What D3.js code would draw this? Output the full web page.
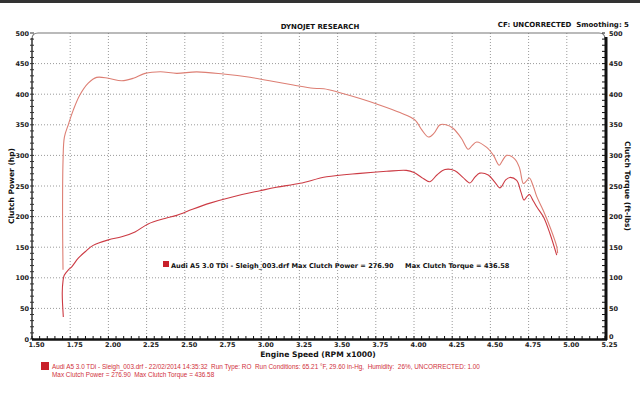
<!DOCTYPE html>
<html><head><meta charset="utf-8">
<script src="https://cdn.jsdelivr.net/npm/d3@7"></script>
<style>html,body{margin:0;padding:0;background:#fff;overflow:hidden}</style>
</head><body>
<svg id="c" width="640" height="397"></svg>
<script>
// RPM (x1000) and values
const torqueRpm = [1.703,1.700,1.703,1.712,1.740,1.770,1.814,1.868,1.923,2.000,2.087,2.163,2.240,2.340,2.447,2.578,2.752,2.927,3.100,3.210,3.340,3.410,3.516,3.647,3.756,3.908,4.006,4.050,4.094,4.130,4.170,4.210,4.257,4.310,4.355,4.380,4.410,4.476,4.520,4.558,4.580,4.607,4.660,4.690,4.716,4.735,4.755,4.780,4.803,4.846,4.890,4.934,4.940];
const torqueVal = [113,200,290,330,352,374,399,418,427.5,426,422,426,434,436.6,434,436.5,433,427.6,420,415,409.6,409,402.5,393,384,370,358,342,330,336,350,350,344,328,310,316,322,313,300,284,292,300,294,280,254,258,263,250,233,210,183,151,140];
const powerRpm = [1.705,1.698,1.703,1.711,1.738,1.760,1.803,1.850,1.900,2.000,2.087,2.174,2.260,2.370,2.447,2.550,2.665,2.817,2.992,3.100,3.254,3.428,3.647,3.820,3.950,4.000,4.050,4.104,4.150,4.203,4.268,4.320,4.366,4.400,4.430,4.486,4.530,4.563,4.600,4.628,4.672,4.700,4.720,4.740,4.755,4.780,4.803,4.846,4.890,4.934];
const powerVal = [36,75,95,104,113,118,132,143,153,162,167,175,188,197,202,212,222,232.5,242.3,248,254.4,265,270.7,274,275.5,272,264,257,268,276.9,275,264,255,265,271,268,256,247,260,264,259,240,227,233,236,226,216,200,172,137];
const xTicks = [1.50,1.75,2.00,2.25,2.50,2.75,3.00,3.25,3.50,3.75,4.00,4.25,4.50,4.75,5.00,5.25];
const yTicks = [0,50,100,150,200,250,300,350,400,450,500];

const svg = d3.select("#c");
const L = 32, R = 605, T = 33, B = 339;
const x = d3.scaleLinear().domain([1.5,5.25]).range([L,R]);
const y = d3.scaleLinear().domain([0,500]).range([B,T]);
const y2 = d3.scaleLinear().domain([0,500]).range([B,T]);

// background & scan strip
svg.append("rect").attr("width",640).attr("height",397).attr("fill","#fff");
svg.append("rect").attr("width",640).attr("height",3).attr("fill","#333");

// grid
const g = svg.append("g");
g.selectAll(".gx").data(xTicks.slice(1,-1)).join("line")
  .attr("x1",d=>x(d)).attr("x2",d=>x(d)).attr("y1",T).attr("y2",B)
  .attr("stroke","#9a9a9a").attr("stroke-width",1).attr("stroke-dasharray","1,2");
g.selectAll(".gy").data(yTicks.slice(1,-1)).join("line")
  .attr("x1",L).attr("x2",R).attr("y1",d=>y(d)).attr("y2",d=>y(d))
  .attr("stroke","#9a9a9a").attr("stroke-width",1).attr("stroke-dasharray","1,2");

// top border with rounded corners
svg.append("path").attr("d",`M${L},${T+6} Q${L},${T} ${L+6},${T} L${R-6},${T} Q${R},${T} ${R},${T+6}`)
  .attr("fill","none").attr("stroke","#777").attr("stroke-width",1.2);

// left axis
const yAxisL = d3.axisLeft(y).tickValues(yTicks).tickSize(0).tickFormat(d3.format("d"));
const gl = svg.append("g").attr("transform",`translate(${L},0)`).call(yAxisL);
gl.select(".domain").remove();
gl.selectAll("text").attr("x",-3).attr("font-family","DejaVu Sans").attr("font-weight","bold").attr("font-size",6.5).attr("fill","#222");
svg.append("line").attr("x1",L).attr("x2",L).attr("y1",T+5).attr("y2",B).attr("stroke","#333").attr("stroke-width",1.5);
const minorY = d3.range(0,501,10);
svg.selectAll(".mly").data(minorY).join("line")
  .attr("x1",L-2).attr("x2",L+2).attr("y1",d=>y(d)).attr("y2",d=>y(d)).attr("stroke","#333").attr("stroke-width",1);

// right axis
const yAxisR = d3.axisRight(y2).tickValues(yTicks).tickSize(0).tickFormat(d3.format("d"));
const gr = svg.append("g").attr("transform",`translate(${R},0)`).call(yAxisR);
gr.select(".domain").remove();
gr.selectAll("text").attr("x",4).attr("font-family","DejaVu Sans").attr("font-weight","bold").attr("font-size",6.5).attr("fill","#222")
  .attr("dy",d=>d===0?"-0.1em":"0.32em");
svg.append("line").attr("x1",R+1).attr("x2",R+1).attr("y1",T+4).attr("y2",B+1).attr("stroke","#111").attr("stroke-width",3);
svg.selectAll(".mry").data(minorY).join("line")
  .attr("x1",R-3).attr("x2",R).attr("y1",d=>y2(d)).attr("y2",d=>y2(d)).attr("stroke","#111").attr("stroke-width",1);

// bottom axis
const xAxis = d3.axisBottom(x).tickValues(xTicks).tickSize(0).tickFormat(d3.format(".2f"));
const gb = svg.append("g").attr("transform",`translate(0,${B})`).call(xAxis);
gb.select(".domain").remove();
gb.selectAll("text").attr("y",3).attr("dx",4).attr("font-family","DejaVu Sans").attr("font-weight","bold").attr("font-size",6.5).attr("fill","#222");
svg.append("line").attr("x1",L).attr("x2",R+2).attr("y1",B+0.5).attr("y2",B+0.5).attr("stroke","#111").attr("stroke-width",2.5);
const minorX = d3.range(0,76).map(i=>1.5+i*0.05);
svg.selectAll(".mbx").data(minorX).join("line")
  .attr("x1",d=>x(d)).attr("x2",d=>x(d)).attr("y1",B-3).attr("y2",B).attr("stroke","#111").attr("stroke-width",1);

// axis titles
const bold = s=>s.attr("font-family","DejaVu Sans").attr("font-weight","bold").attr("fill","#111");
bold(svg.append("text").attr("transform","translate(14,186) rotate(-90)").attr("text-anchor","middle").attr("font-size",7.5).text("Clutch Power (hp)"));
bold(svg.append("text").attr("transform","translate(625,186) rotate(90)").attr("text-anchor","middle").attr("font-size",7.5).text("Clutch Torque (ft-lbs)"));
bold(svg.append("text").attr("x",318).attr("y",356.5).attr("text-anchor","middle").attr("font-size",7.6).text("Engine Speed (RPM x1000)"));
bold(svg.append("text").attr("x",320).attr("y",29).attr("text-anchor","middle").attr("font-size",7).text("DYNOJET RESEARCH"));
bold(svg.append("text").attr("x",629).attr("y",27).attr("text-anchor","end").attr("font-size",7).text("CF: UNCORRECTED  Smoothing: 5").attr("xml:space","preserve"));

// curves
const line = d3.line().curve(d3.curveCatmullRom.alpha(0.5));
const tPts = torqueRpm.map((r,i)=>[x(r), y2(torqueVal[i])]);
const pPts = powerRpm.map((r,i)=>[x(r), y(powerVal[i])]);
svg.append("path").attr("d",line(tPts)).attr("fill","none").attr("stroke","#dd7f74").attr("stroke-width",1.1);
svg.append("path").attr("d",line(pPts)).attr("fill","none").attr("stroke","#cc3b44").attr("stroke-width",1.1);

// in-plot legend
svg.append("rect").attr("x",163).attr("y",261).attr("width",6).attr("height",6).attr("fill","#c8202a");
bold(svg.append("text").attr("x",171).attr("y",267.5).attr("font-size",6.6).attr("xml:space","preserve")
  .text("Audi A5 3.0 TDi - Sleigh_003.drf Max Clutch Power = 276.90     Max Clutch Torque = 436.58"));

// bottom run info
svg.append("rect").attr("x",41).attr("y",362).attr("width",8).attr("height",8).attr("fill","#c8202a");
const rt = svg.append("text").attr("font-family","Liberation Sans").attr("font-size",6.4).attr("fill","#d0303a").attr("xml:space","preserve");
rt.append("tspan").attr("x",52).attr("y",369).text("Audi A5 3.0 TDi - Sleigh_003.drf - 22/02/2014 14:35:32  Run Type: RO  Run Conditions: 65.21 °F, 29.60 in-Hg,  Humidity:  26%, UNCORRECTED: 1.00");
rt.append("tspan").attr("x",52).attr("y",377).text("Max Clutch Power = 276.90  Max Clutch Torque = 436.58");
</script>
</body></html>
